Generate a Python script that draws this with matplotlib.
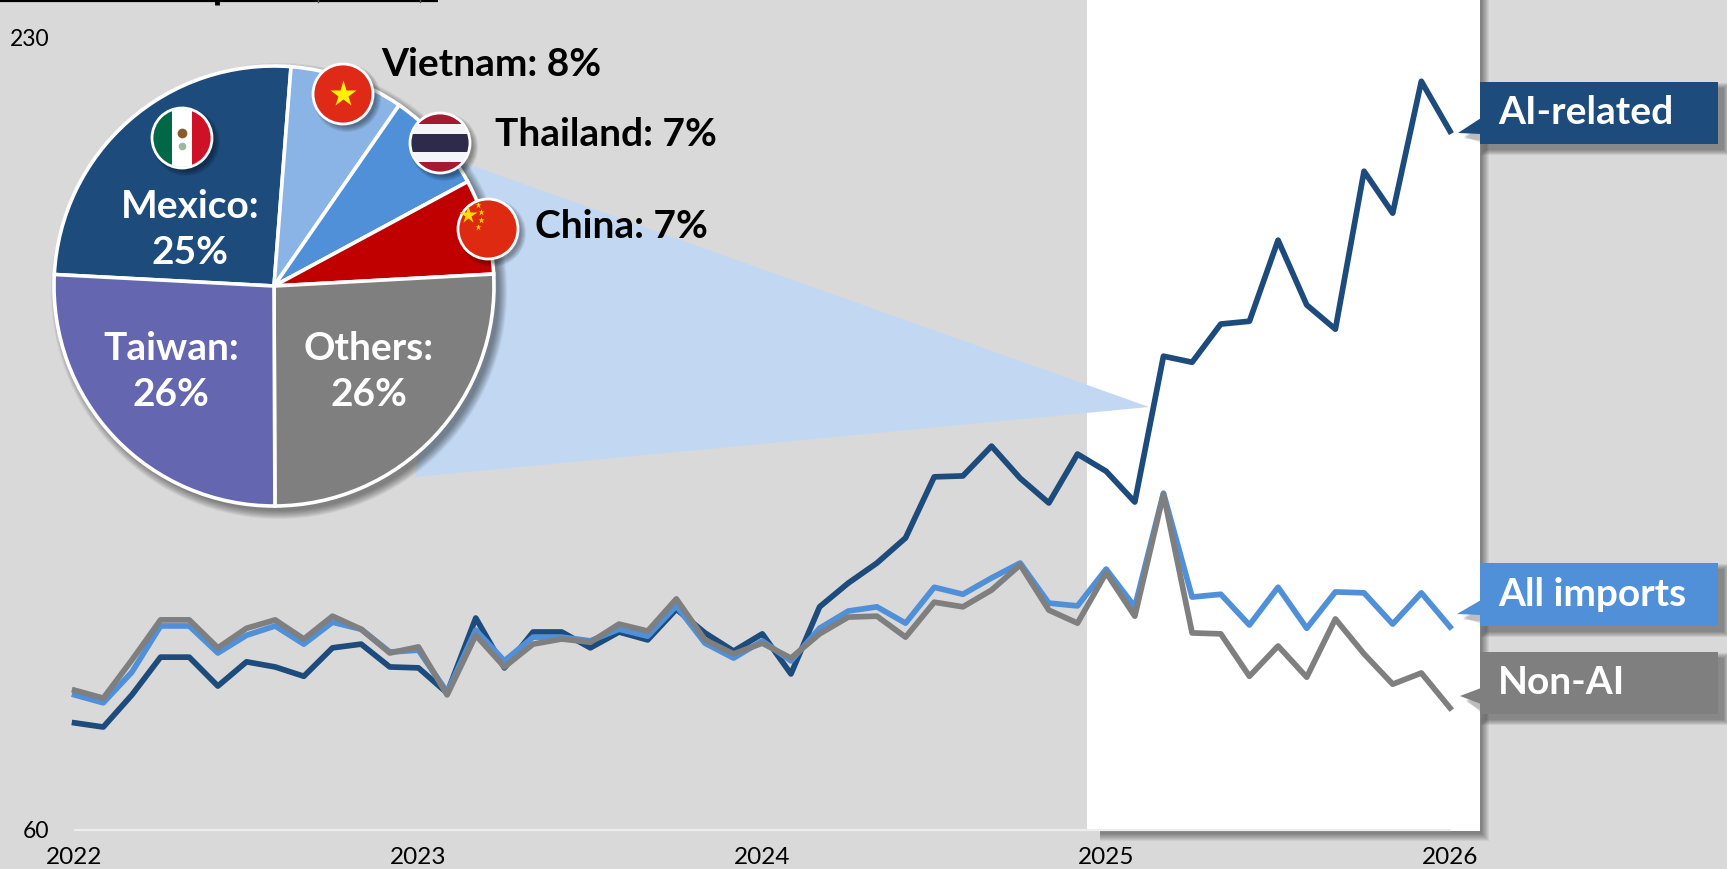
import matplotlib
matplotlib.use('Agg')
import matplotlib.pyplot as plt
from matplotlib.patches import Circle, Polygon, Rectangle

plt.rcParams['font.family'] = ['Lato', 'DejaVu Sans']

W, H = 1727, 869

# === data ===
months = list(range(49))  # Jan 2022 .. Jan 2026
ai_related = [83.0, 82.1, 89.0, 97.1, 97.1, 90.9, 96.1, 95.0, 93.0, 99.1, 99.9, 95.0, 94.8,
              89.4, 105.5, 94.8, 102.5, 102.5, 99.1, 102.5, 100.8, 107.4, 102.3, 98.4, 102.1,
              93.5, 107.9, 113.0, 117.3, 122.7, 135.8, 136.0, 142.4, 135.5, 130.2, 140.7, 137.0,
              130.4, 161.7, 160.4, 168.6, 169.2, 186.6, 172.7, 167.5, 201.4, 192.4, 220.7, 210.0]
all_imports = [89.0, 87.3, 93.9, 103.8, 103.8, 98.0, 101.8, 103.8, 99.9, 104.6, 103.1, 98.2, 98.6,
               89.6, 102.9, 96.3, 101.4, 101.4, 100.6, 103.1, 101.6, 108.1, 100.1, 96.9, 100.6,
               96.3, 103.3, 107.0, 107.9, 104.4, 112.1, 110.6, 114.1, 117.3, 108.7, 108.1, 116.0,
               107.9, 132.3, 110.0, 110.6, 104.0, 112.1, 103.3, 111.1, 110.9, 104.2, 110.9, 103.6]
non_ai = [90.0, 88.3, 96.5, 105.1, 105.1, 99.1, 103.3, 105.1, 101.0, 105.9, 103.1, 98.0, 99.3,
          89.0, 101.8, 95.0, 99.9, 101.0, 100.3, 104.2, 102.7, 109.6, 100.8, 97.8, 100.1,
          96.9, 102.1, 105.7, 105.9, 101.4, 108.9, 107.9, 111.5, 116.9, 107.2, 104.4, 115.2,
          105.9, 132.1, 102.3, 102.1, 93.0, 99.5, 92.8, 105.3, 97.8, 91.3, 93.7, 86.2]

year_ticks = [0, 12, 24, 36, 48]
year_labels = ['2022', '2023', '2024', '2025', '2026']
y_ticks = [60, 230]

# slice sizes as drawn (the printed labels are rounded)
pie_shares = [25.4, 8.4, 7.5, 7.0, 25.8, 25.9]
pie_colors = ['#1C4B7C', '#8AB4E5', '#4F90D9', '#C00000', '#7F7F7F', '#6466B0']

DARK = '#1C4B7C'
BLUE = '#4F90D9'
GRAY = '#7F7F7F'
BG = '#D9D9D9'
LABEL_SIZE = 28


def soft_shadow(ax, make_patch, steps=8, spread=1.0, alpha=0.06):
    # stack of see-through shapes instead of a real blur
    for i in range(steps, 0, -1):
        ax.add_patch(make_patch((i - 1) * spread, alpha))


fig = plt.figure(figsize=(W / 100, H / 100), dpi=100, facecolor=BG)

# --- back layer: white band and the zoom cone, in pixel coordinates ---
back = fig.add_axes([0, 0, 1, 1], zorder=0)
back.set_xlim(0, W)
back.set_ylim(H, 0)
back.axis('off')

soft_shadow(back, lambda g, a: Rectangle((1100, -10), 380 + g + 2, 841 + g + 3,
                                         fc='black', ec='none', alpha=a))
back.add_patch(Rectangle((1087, -10), 393, 841, fc='white', ec='none'))
back.add_patch(Polygon([(462, 162), (1149, 407), (415, 477)], closed=True, fc='#C2D8F2', ec='none'))

# title is cut off by the top edge, only its underline and descenders remain
back.plot([0, 438], [0.7, 0.7], color='black', lw=1.6, solid_capstyle='butt')
back.plot([217.5, 217.5], [0, 5], color='black', lw=3.5, solid_capstyle='butt')
back.plot([318, 318], [0, 2], color='#555555', lw=1)
back.plot([420, 420], [0, 2], color='#555555', lw=1)

# --- main line chart ---
x0, x1, y0, y1 = 74.6, 1450, 830, 38
ax = fig.add_axes([x0 / W, 1 - y0 / H, (x1 - x0) / W, (y0 - y1) / H], zorder=1)
ax.patch.set_alpha(0)
ax.set_xlim(0, 48)
ax.set_ylim(60, 230)

ax.plot(months, ai_related, color=DARK, lw=4.1, solid_joinstyle='round', clip_on=False)
ax.plot(months, all_imports, color=BLUE, lw=4.1, solid_joinstyle='round', clip_on=False)
ax.plot(months, non_ai, color=GRAY, lw=4.1, solid_joinstyle='round', clip_on=False)

for s in ['top', 'right', 'left']:
    ax.spines[s].set_visible(False)
ax.spines['bottom'].set_color('#EDEDED')
ax.spines['bottom'].set_linewidth(1.6)
ax.set_xticks(year_ticks)
ax.set_xticklabels(year_labels)
ax.set_yticks(y_ticks)
ax.tick_params(axis='x', length=0, pad=12.5, labelsize=17.5)
ax.tick_params(axis='y', length=0, pad=18, labelsize=16.5)

# --- front layer: pie shadow, flags, callouts ---
top = fig.add_axes([0, 0, 1, 1], zorder=2)
top.set_xlim(0, W)
top.set_ylim(H, 0)
top.axis('off')
top.patch.set_alpha(0)

cx, cy, r = 274, 286, 220
soft_shadow(top, lambda g, a: Circle((cx + 5, cy + 5), r + g, fc='black', ec='none', alpha=a),
            steps=9, spread=1.0, alpha=0.055)

pie_ax = fig.add_axes([(cx - r * 1.05) / W, 1 - (cy + r * 1.05) / H, 2.1 * r / W, 2.1 * r / H], zorder=3)
pie_ax.pie(pie_shares, colors=pie_colors, startangle=177, counterclock=False,
           wedgeprops={'edgecolor': 'white', 'linewidth': 2.6})
pie_ax.set_xlim(-1.05, 1.05)
pie_ax.set_ylim(-1.05, 1.05)

# flags and text sit over the pie
front = fig.add_axes([0, 0, 1, 1], zorder=4)
front.set_xlim(0, W)
front.set_ylim(H, 0)
front.axis('off')
front.patch.set_alpha(0)


def flag(x, y, stripes, vertical=False):
    R = 29
    soft_shadow(front, lambda g, a: Circle((x + 4, y + 4), R + g, fc='black', ec='none', alpha=a),
                steps=6, spread=1.0, alpha=0.07)
    clip = Circle((x, y), R, transform=front.transData)
    pos = 0
    for frac, col in stripes:
        if vertical:
            p = Rectangle((x - R + pos * 2 * R, y - R), frac * 2 * R, 2 * R, fc=col, ec='none')
        else:
            p = Rectangle((x - R, y - R + pos * 2 * R), 2 * R, frac * 2 * R, fc=col, ec='none')
        front.add_patch(p)
        p.set_clip_path(clip)
        pos += frac


def flag_ring(x, y, R=29):
    front.add_patch(Circle((x, y), R + 1, fc='none', ec='white', lw=2))


# Mexico
flag(182, 138, [(1 / 3, '#006847'), (1 / 3, 'white'), (1 / 3, '#CE1126')], vertical=True)
front.plot([182], [133], marker='o', ms=7, color='#8A5A2B', mec='none')
front.plot([182], [146], marker='o', ms=5.5, color='#9DB8A0', mec='none')
flag_ring(182, 138)

# Vietnam
flag(343, 94, [(1, '#DE2A16')])
front.plot([343], [94], marker='*', ms=20, color='#FFF200', mec='none')
flag_ring(343, 94)

# Thailand
flag(440, 143, [(0.17, '#A51931'), (0.17, '#F4F5F8'), (0.32, '#2D2A4A'), (0.17, '#F4F5F8'), (0.17, '#A51931')])
flag_ring(440, 143)

# China
flag(488, 229, [(1, '#DE2A10')])
front.plot([468], [215], marker='*', ms=13, color='#FFDE00', mec='none')
for sx, sy in [(478, 205), (481, 212), (481, 220), (478, 227)]:
    front.plot([sx], [sy], marker='*', ms=4.5, color='#FFDE00', mec='none')
flag_ring(488, 229)

# pie labels
for lx, ly, label in [(190, 206, 'Mexico:'), (190, 252, '25%'), (171, 349, 'Taiwan:'), (171, 394, '26%'),
                      (369, 349, 'Others:'), (369, 394, '26%')]:
    front.text(lx, ly, label, color='white', fontsize=LABEL_SIZE, fontweight='bold', ha='center', va='center')
for lx, ly, label in [(381, 65, 'Vietnam: 8%'), (495, 134, 'Thailand: 7%'), (535, 227, 'China: 7%')]:
    front.text(lx, ly, label, color='black', fontsize=LABEL_SIZE, fontweight='bold', ha='left', va='center')


def callout(label, top_y, bot_y, tip, base_top, base_bot, color):
    bx0, bx1 = 1480, 1718
    off = 6
    soft_shadow(front, lambda g, a: Rectangle((bx0 + off - g, top_y + off - g), bx1 - bx0 + 2 * g,
                                              bot_y - top_y + 2 * g, fc='black', ec='none', alpha=a),
                steps=6, spread=1.0, alpha=0.07)
    soft_shadow(front, lambda g, a: Polygon([(bx0 + 1, base_top + off + 2), (tip[0] + off, tip[1] + off - g),
                                             (bx0 + 1, base_bot + off + g)], closed=True,
                                            fc='black', ec='none', alpha=a),
                steps=4, spread=1.0, alpha=0.07)
    front.add_patch(Rectangle((bx0, top_y), bx1 - bx0, bot_y - top_y, fc=color, ec='none'))
    front.add_patch(Polygon([(bx0 + 1, base_top), tip, (bx0 + 1, base_bot)], closed=True, fc=color, ec='none'))
    front.text(1498, (top_y + bot_y) / 2, label, color='white', fontsize=LABEL_SIZE, fontweight='bold',
               ha='left', va='center')


callout('AI-related', 82, 144, (1458, 133), 118, 134, DARK)
callout('All imports', 563, 626, (1457, 614), 600, 615, BLUE)
callout('Non-AI', 652, 714, (1460, 696), 688, 704, GRAY)

fig.savefig('out.png', dpi=100, facecolor=BG)
